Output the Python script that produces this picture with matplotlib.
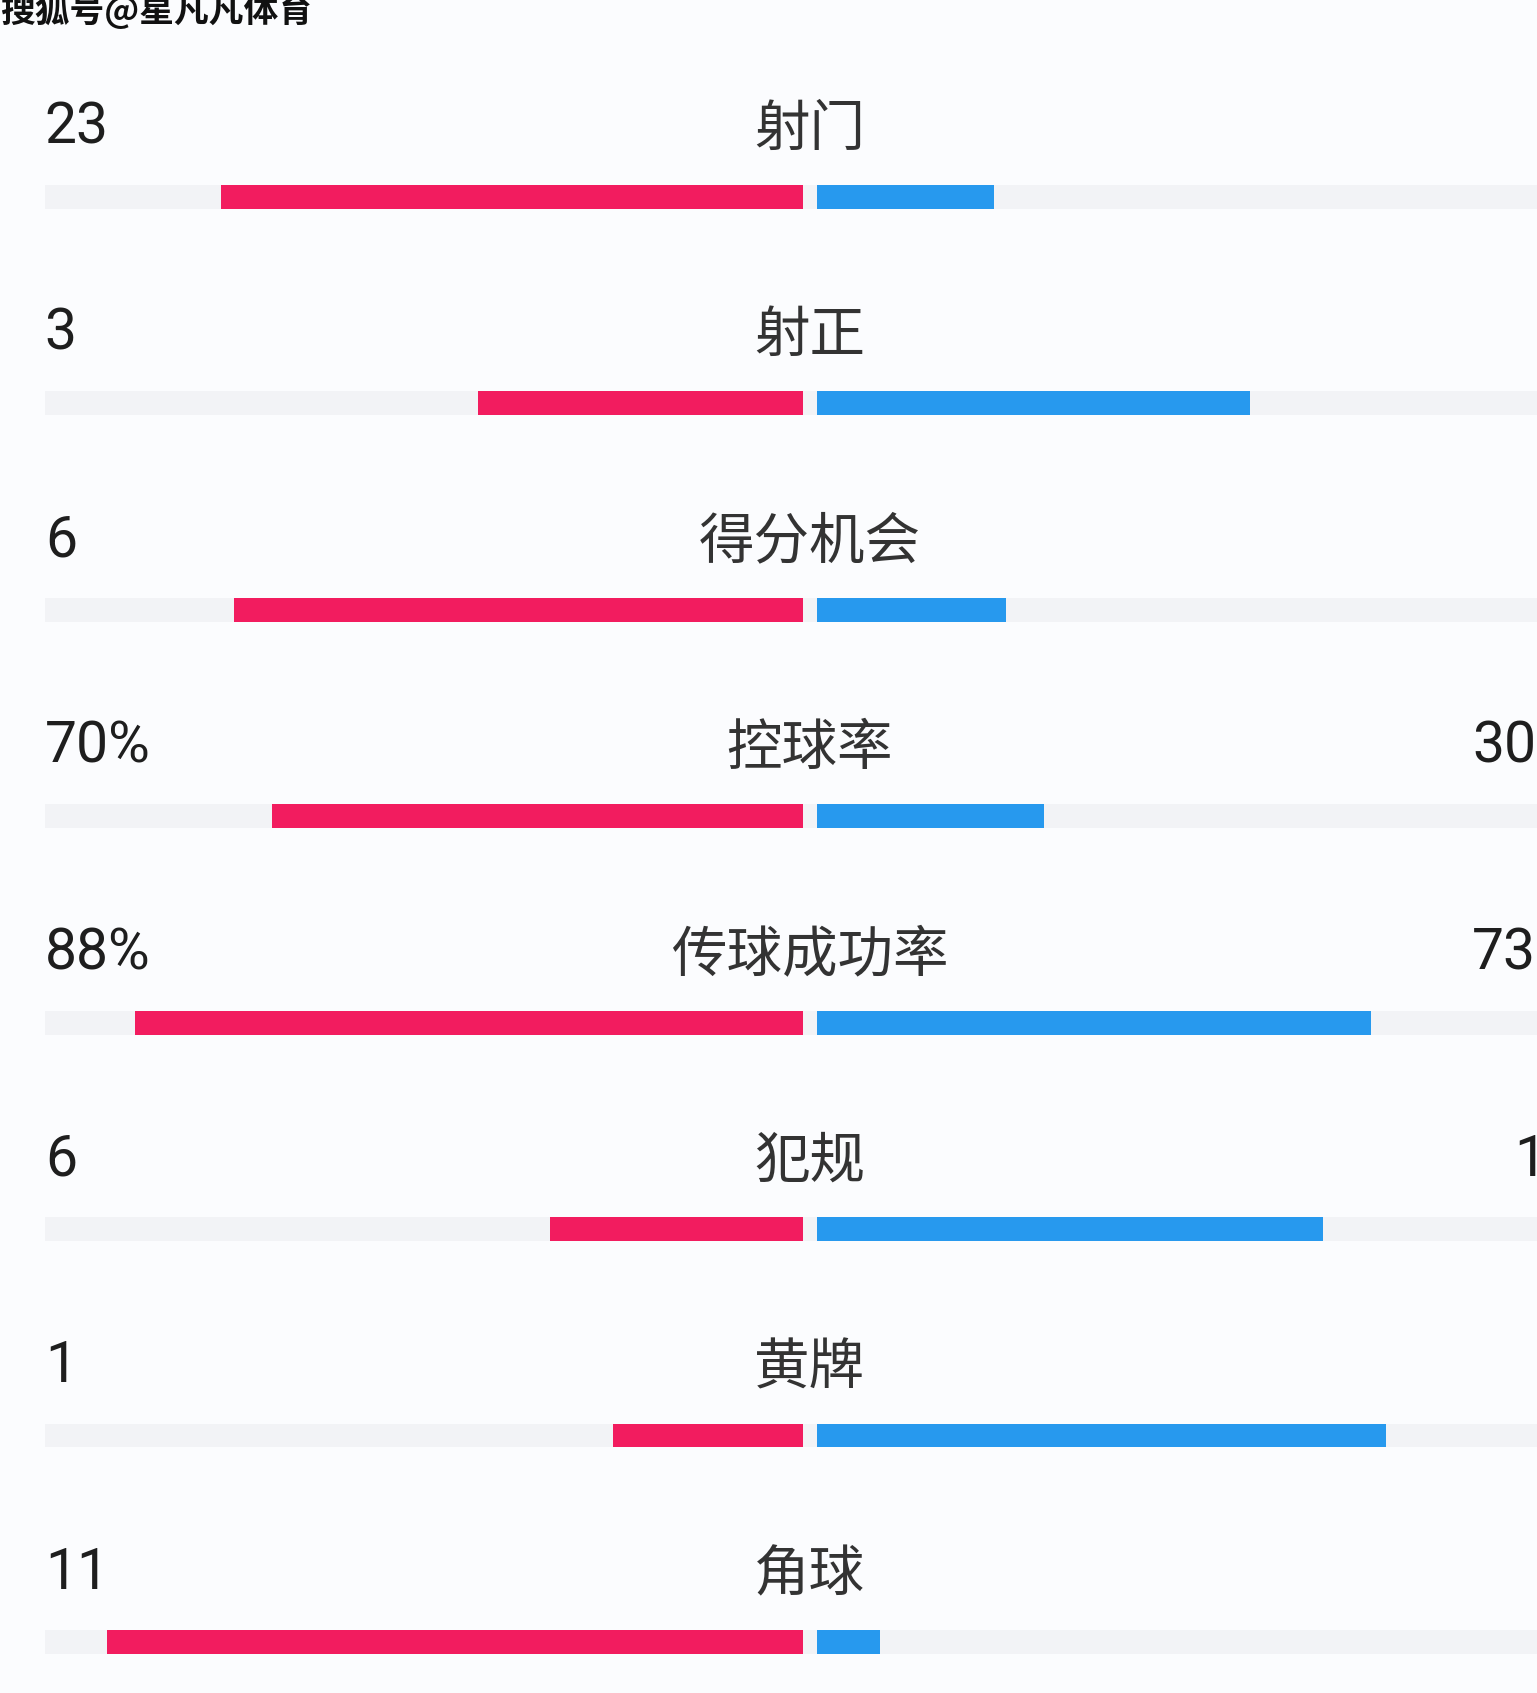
import matplotlib.pyplot as plt

plt.rcParams['font.family'] = ['Noto Sans CJK SC', 'DejaVu Sans']

# datos del partido (izquierda = local, derecha = visitante)
categorias = ['射门', '射正', '得分机会', '控球率', '传球成功率', '犯规', '黄牌', '角球']
local = [23, 3, 6, 70, 88, 6, 1, 11]
visitante = [7, 4, 2, 30, 73, 12, 3, 1]
es_porcentaje = [False, False, False, True, True, False, False, False]
marca_agua = '搜狐号@星凡凡体育'

ROJO = '#f21c5f'
AZUL = '#2799ee'
PISTA = '#f2f3f6'
FONDO = '#fbfcfe'
TEXTO = '#1e1e1e'

fig = plt.figure(figsize=(15.37, 16.93), dpi=100, facecolor=FONDO)
ax = fig.add_axes([0, 0, 1, 1])
ax.set_facecolor(FONDO)
# centro = 0, media anchura = 1
ax.set_xlim(-1.067, 0.958)
ax.set_ylim(7.247, -0.952)
ax.axis('off')

gap = 0.009
alto = 0.116
n = len(categorias)
filas = list(range(n))

# pista gris de fondo
ax.barh(filas, [2.2] * n, left=-1.008, height=alto, color=PISTA, zorder=1)

# longitudes: porcentaje directo, conteos como proporción del total
izq = []
der = []
for a, b, p in zip(local, visitante, es_porcentaje):
    if p:
        izq.append(a / 100)
        der.append(b / 100)
    else:
        izq.append(a / (a + b))
        der.append(b / (a + b))

ax.barh(filas, [-v for v in izq], left=-gap, height=alto, color=ROJO, zorder=2)
ax.barh(filas, der, left=gap, height=alto, color=AZUL, zorder=2)

# textos
fuente_num = ['Roboto', 'DejaVu Sans']
for i, (cat, a, b, p) in enumerate(zip(categorias, local, visitante, es_porcentaje)):
    sufijo = '%' if p else ''
    y = i - 0.257
    ax.text(-1.008, y, f'{a}{sufijo}', ha='left', va='baseline', fontsize=41,
            color=TEXTO, family=fuente_num)
    ax.text(1.012, y, f'{b}{sufijo}', ha='right', va='baseline', fontsize=41,
            color=TEXTO, family=fuente_num)
    ax.text(0, y + 0.01, cat, ha='center', va='baseline', fontsize=40,
            color='#333333')

# marca de agua cortada arriba
fig.text(0.0, 0.994, marca_agua, ha='left', va='center', fontsize=25,
         color='#111111', fontweight='bold')

fig.savefig('out.png', dpi=100, facecolor=FONDO)
